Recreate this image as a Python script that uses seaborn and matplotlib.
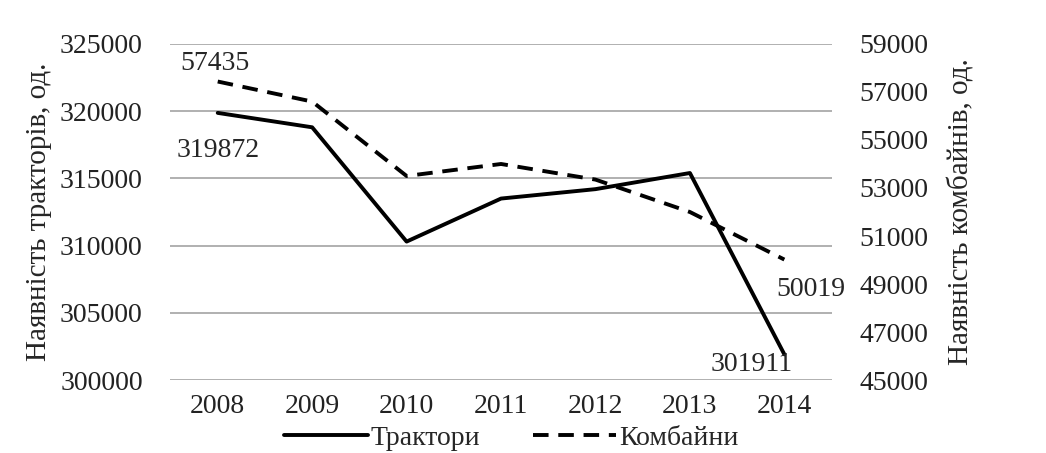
import matplotlib
matplotlib.use("Agg")
import matplotlib.pyplot as plt
import seaborn as sns
import pandas as pd
from matplotlib.lines import Line2D

years = ["2008", "2009", "2010", "2011", "2012", "2013", "2014"]
tractors = [319872, 318800, 310300, 313500, 314200, 315400, 301911]
combines = [57435, 56600, 53500, 54000, 53350, 52000, 50019]

df = pd.DataFrame({"Рік": years, "Трактори": tractors, "Комбайни": combines})

sns.set_style("white")
plt.rcParams["font.family"] = ["Liberation Serif", "DejaVu Serif"]
fs = 20

fig = plt.figure(figsize=(10.46, 4.53), dpi=100)
ax = fig.add_axes([0.163, 0.161, 0.632, 0.742])
ax2 = ax.twinx()

sns.lineplot(data=df, x="Рік", y="Трактори", ax=ax, color="black", linewidth=2.8, sort=False)
sns.lineplot(data=df, x="Рік", y="Комбайни", ax=ax2, color="black", linewidth=2.8,
             linestyle=(0, (4, 2.5)), sort=False)

ax.set_xlim(-0.5, len(years) - 0.5)
ax.set_ylim(300000, 325000)
ax.set_yticks(range(300000, 325001, 5000))
ax2.set_ylim(45000, 59000)
ax2.set_yticks(range(45000, 59001, 2000))

ax.yaxis.grid(True, color="#aaaaaa", linewidth=1.3)
ax.set_axisbelow(True)
for a in (ax, ax2):
    for s in a.spines.values():
        s.set_visible(False)
    a.tick_params(length=0, labelsize=fs, colors="#222222")

ax.set_xlabel("")
ax.set_ylabel("Наявність тракторів, од.", fontsize=fs + 1, labelpad=6)
ax2.set_ylabel("Наявність комбайнів, од.", fontsize=fs + 1, labelpad=14)
ax.tick_params(axis="y", pad=20)
ax2.tick_params(axis="y", pad=20)
ax.tick_params(axis="x", pad=10)

# data labels
ax.annotate(f"{tractors[0]}", (0, tractors[0]), xytext=(0, -32), textcoords="offset points",
            ha="center", fontsize=fs)
ax.annotate(f"{tractors[-1]}", (6, tractors[-1]), xytext=(6, -12), textcoords="offset points",
            ha="right", fontsize=fs)
ax2.annotate(f"{combines[0]}", (0, combines[0]), xytext=(-2, 8), textcoords="offset points",
             ha="center", fontsize=fs)
ax2.annotate(f"{combines[-1]}", (6, combines[-1]), xytext=(-6, -26), textcoords="offset points",
             ha="left", fontsize=fs)

handles = [Line2D([], [], color="black", linewidth=2.8),
           Line2D([], [], color="black", linewidth=2.8, linestyle=(0, (4, 2.5)))]
fig.legend(handles, ["Трактори", "Комбайни"], loc="lower center", bbox_to_anchor=(0.489, -0.05),
           ncol=2, frameon=False, fontsize=fs, handlelength=3.0, handletextpad=0.1,
           columnspacing=1.9)

fig.savefig("out.png", dpi=100)
